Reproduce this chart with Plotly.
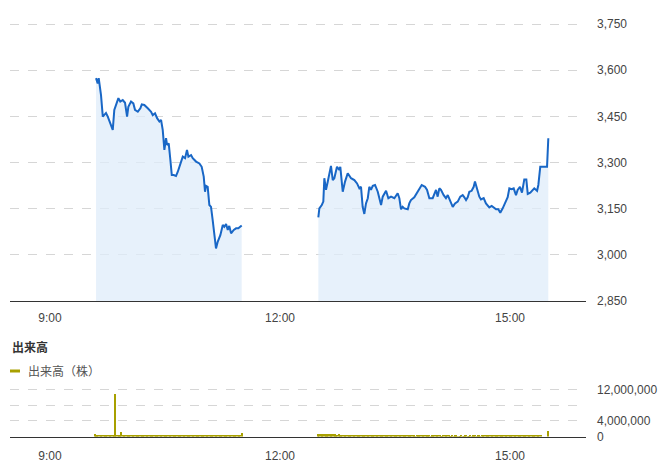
import plotly.graph_objects as go

DAY = "2025-01-06 "

# ---- price data (morning session) ----
am_times = ["09:36:00","09:37:18","09:38:06","09:39:54","09:41:18","09:42:30","09:43:48","09:45:12","09:47:12","09:49:06",
            "09:50:18","09:51:42","09:53:30","09:55:00","09:56:54","09:58:42","10:00:18","10:01:18","10:03:24","10:05:12",
            "10:06:30","10:08:42","10:10:42","10:11:48","10:13:48","10:16:30","10:19:06","10:20:24","10:22:12","10:23:48",
            "10:25:36","10:26:54","10:28:12","10:29:30","10:30:48","10:31:36","10:32:54","10:34:12","10:35:18","10:36:48",
            "10:38:36","10:40:00","10:42:00","10:43:54","10:45:42","10:47:12","10:48:18","10:50:24","10:51:42","10:54:18",
            "10:56:54","10:58:42","11:00:18","11:01:18","11:02:06","11:03:24","11:04:42","11:06:00","11:07:18","11:08:36",
            "11:09:54","11:11:18","11:13:18","11:15:12","11:16:24","11:17:48","11:19:06","11:20:18","11:21:42","11:23:48",
            "11:25:36","11:27:24","11:28:54","11:30:00"]
am_prices = [3574,3557,3574,3519,3449,3454,3461,3449,3427,3406,
             3471,3487,3509,3498,3503,3494,3449,3481,3498,3492,
             3471,3465,3476,3489,3487,3476,3465,3454,3460,3444,
             3433,3438,3406,3341,3379,3357,3362,3308,3259,3259,
             3256,3270,3297,3319,3314,3341,3319,3324,3314,3303,
             3297,3286,3254,3205,3224,3221,3162,3156,3113,3070,
             3021,3043,3064,3097,3091,3100,3081,3094,3070,3081,
             3086,3086,3091,3095]

# ---- price data (afternoon session) ----
pm_times = ["12:30:00","12:30:48","12:32:42","12:33:54","12:34:42","12:36:00","12:37:24","12:38:36","12:39:54","12:41:18",
            "12:42:30","12:44:36","12:46:24","12:47:12","12:49:06","12:50:54","12:53:00","12:55:36","12:58:12","13:00:18",
            "13:02:06","13:03:24","13:04:42","13:06:00","13:07:18","13:08:42","13:09:54","13:11:12","13:12:36","13:14:24",
            "13:16:30","13:19:06","13:20:24","13:23:00","13:24:48","13:26:54","13:29:30","13:32:06","13:33:24","13:34:42",
            "13:36:00","13:37:18","13:40:00","13:41:12","13:42:30","13:45:06","13:47:48","13:49:36","13:50:54","13:53:30",
            "13:55:06","13:56:54","13:59:30","14:02:06","14:03:24","14:04:42","14:06:00","14:08:06","14:09:54","14:11:18",
            "14:13:18","14:15:12","14:17:00","14:19:06","14:21:06","14:23:00","14:24:18","14:25:36","14:26:54","14:28:12",
            "14:30:00","14:31:36","14:32:36","14:34:12","14:36:00","14:37:18","14:39:24","14:41:12","14:43:48","14:45:42",
            "14:47:42","14:49:06","14:50:54","14:52:24","14:54:18","14:56:06","14:58:12","14:59:30","15:01:18","15:02:54",
            "15:04:42","15:06:00","15:07:48","15:09:24","15:11:12","15:12:48","15:13:54","15:15:54","15:17:48","15:19:00",
            "15:21:12","15:22:12","15:23:42","15:25:36","15:29:00","15:30:00"]
pm_prices = [3122,3151,3162,3173,3249,3211,3238,3259,3289,3243,
             3249,3286,3276,3286,3205,3238,3265,3249,3243,3232,
             3216,3221,3156,3133,3167,3184,3221,3211,3224,3227,
             3205,3162,3189,3208,3184,3189,3184,3200,3184,3148,
             3156,3151,3148,3167,3178,3187,3205,3221,3227,3221,
             3211,3184,3184,3211,3189,3216,3211,3194,3184,3194,
             3173,3156,3167,3173,3189,3194,3187,3178,3187,3205,
             3208,3221,3238,3211,3189,3180,3184,3167,3154,3159,
             3154,3148,3148,3137,3151,3167,3187,3216,3213,3216,
             3194,3211,3221,3202,3245,3245,3198,3202,3211,3216,
             3208,3227,3286,3286,3286,3379]

# ---- volume data (per minute, thousands of shares) ----
am_vol_start = "09:35"
am_volume_k = [560,520,500,470,510,490,480,500,470,490,510,480,460,490,500,470,
               11000,
               420,380,360,340,
               1150,
               400,380,360,390,370,350,360,340,320,330,310,300,320,290,
               280,270,290,260,270,250,260,240,250,230,240,230,220,240,230,220,210,230,220,210,
               200,220,210,200,210,190,200,210,190,200,
               220,250,300,340,320,380,360,330,300,340,380,320,280,260,240,250,230,220,240,230,
               220,210,230,200,220,210,200,220,210,230,220,210,240,280,260,230,250,270,290,260,
               280,300,270,320,340,310,360,
               380,420,850]
pm_vol_start = "12:30"
pm_volume_k = [680,640,620,600,580,610,590,570,580,560,600,580,570,560,550,540,560,
               360,340,320,310,300,290,310,300,280,290,
               270,280,300,260,270,250,260,280,270,240,
               250,260,240,230,250,240,230,220,240,230,
               220,210,230,220,210,220,200,210,220,200,
               210,200,190,210,
               200,190,210,180,200,190,180,200,210,190,
               180,170,190,200,180,170,190,180,200,190,
               210,220,200,190,180,200,190,170,180,190,
               200,180,170,190,180,170,160,180,190,170,
               180,190,170,160,180,170,190,180,170,160,
               170,180,160,170,190,180,170,160,180,170,
               190,200,180,170,180,190,170,180,200,190,
               180,170,190,180,200,210,190,180,170,190,
               200,210,220,200,210,230,220,210,200,220,
               230,240,220,210,230,250,240,230,220,240,
               260,250,270,280,260,290,310,300,320,340,
               360,380,410,440,
               0,0,0,0,0,
               1350]

price_ticks = [2850, 3000, 3150, 3300, 3450, 3600, 3750]
vol_ticks = [0, 4000000, 8000000, 12000000]
vol_tick_text = ["0", "4,000,000", "", "12,000,000"]
x_tick_vals = ["09:00", "12:00", "15:00"]
x_tick_text = ["9:00", "12:00", "15:00"]
x_range = ["08:28:40", "15:59:30"]

LINE = "#1967c6"
FILL = "rgba(223,236,249,0.75)"
OLIVE = "#a8a000"
FONT = "Liberation Sans, Noto Sans CJK JP, sans-serif"


def minute_series(start, n):
    h, m = map(int, start.split(":"))
    out = []
    for i in range(n):
        tot = h * 60 + m + i
        out.append(f"{DAY}{tot // 60:02d}:{tot % 60:02d}:00")
    return out


fig = go.Figure()
for ts, ps in ((am_times, am_prices), (pm_times, pm_prices)):
    fig.add_trace(go.Scatter(
        x=[DAY + t for t in ts], y=ps, mode="lines",
        line=dict(color=LINE, width=2), fill="tozeroy", fillcolor=FILL,
        xaxis="x", yaxis="y", showlegend=False, hoverinfo="skip"))

for st, vk in ((am_vol_start, am_volume_k), (pm_vol_start, pm_volume_k)):
    fig.add_trace(go.Bar(
        x=minute_series(st, len(vk)), y=[v * 1000 for v in vk],
        marker=dict(color=OLIVE, line=dict(width=0)), width=60000,
        xaxis="x2", yaxis="y2", showlegend=False, hoverinfo="skip"))

W, H = 664, 465
x_dom = [10 / W, 586 / W]

p_lo, p_hi = 2850, 3760
p_px_per = (301 - 24) / 900
p_top_px = 301 - (p_hi - p_lo) * p_px_per
v_hi = 12300000
v_px_per = (436.5 - 390) / 12000000
v_top_px = 436.5 - v_hi * v_px_per

common_x = dict(
    type="date", range=[DAY + x_range[0], DAY + x_range[1]], domain=x_dom,
    tickvals=[DAY + t for t in x_tick_vals], ticktext=x_tick_text,
    showgrid=False, zeroline=False, showline=True, linecolor="#333333", linewidth=1,
    ticks="", tickfont=dict(family=FONT, size=12, color="#444444"),
    ticklabelstandoff=6, fixedrange=True, automargin=False)

fig.update_layout(
    width=W, height=H, margin=dict(l=0, r=0, t=0, b=0, autoexpand=False),
    paper_bgcolor="white", plot_bgcolor="white",
    bargap=0, showlegend=False,
    xaxis=dict(anchor="y", **common_x),
    xaxis2=dict(anchor="y2", **{**common_x, "ticklabelstandoff": 8}),
    yaxis=dict(
        domain=[1 - 301 / H, 1 - p_top_px / H], range=[p_lo, p_hi], side="right",
        tickvals=price_ticks, tickformat=",d", showgrid=True, gridcolor="#d6d6d6",
        griddash="dash", gridwidth=1, zeroline=False, showline=False, ticks="",
        automargin=False,
        ticklabelstandoff=10, tickfont=dict(family=FONT, size=12, color="#444444")),
    yaxis2=dict(
        domain=[1 - 436.5 / H, 1 - v_top_px / H], range=[0, v_hi], side="right",
        tickvals=vol_ticks, ticktext=vol_tick_text, showgrid=True, gridcolor="#d6d6d6",
        griddash="dash", gridwidth=1, zeroline=False, showline=False, ticks="",
        automargin=False,
        ticklabelstandoff=10, tickfont=dict(family=FONT, size=12, color="#444444")),
)

fig.add_annotation(x=10 / W, y=1 - 347 / H, xref="paper", yref="paper",
                   text="<b>出来高</b>", showarrow=False, xanchor="left", yanchor="middle",
                   font=dict(family=FONT, size=12, color="#333333"))
fig.add_shape(type="line", xref="paper", yref="paper",
              x0=10 / W, x1=20 / W, y0=1 - 371 / H, y1=1 - 371 / H,
              line=dict(color=OLIVE, width=3))
fig.add_annotation(x=26 / W, y=1 - 371 / H, xref="paper", yref="paper",
                   text="出来高（株）", showarrow=False, xanchor="left", yanchor="middle",
                   font=dict(family=FONT, size=12, color="#555555"))

fig.write_html("out.html", config={"displayModeBar": False},
               post_script="document.body.style.margin='0';document.body.style.overflow='hidden';")
